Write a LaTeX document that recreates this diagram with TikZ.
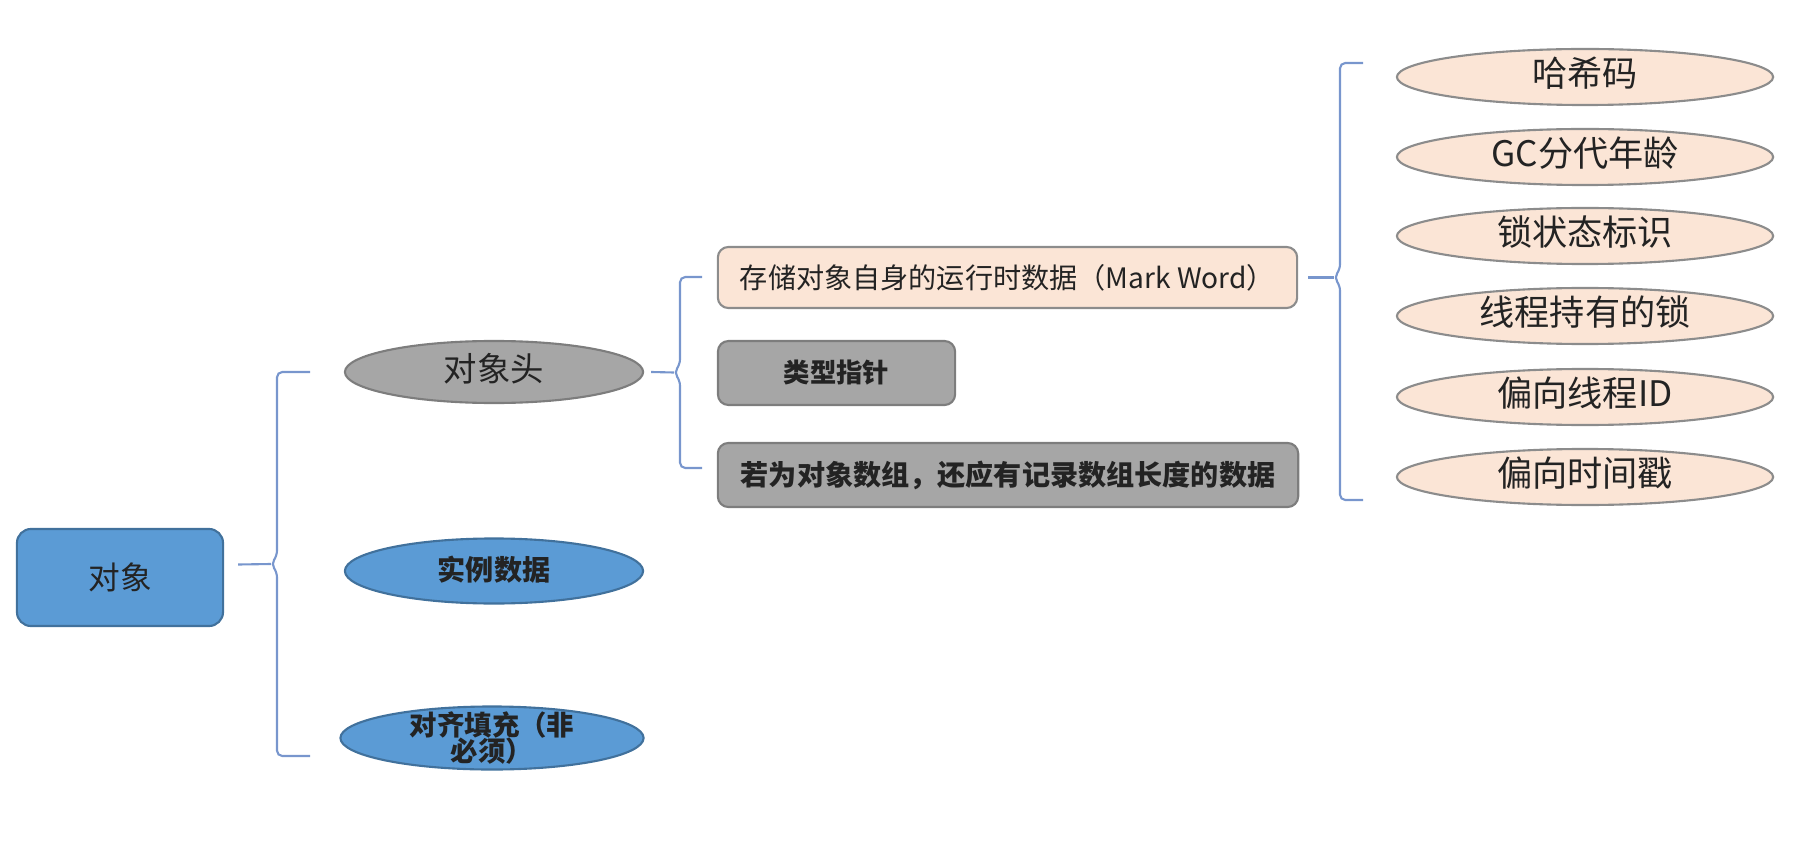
\documentclass[tikz,border=0pt]{standalone}
\usepackage{fontspec}
\setmainfont{Noto Sans CJK SC}
\usetikzlibrary{calc, shapes.geometric}
\definecolor{cBlue}{RGB}{91,155,213}
\definecolor{cBlueDark}{RGB}{65,113,156}
\definecolor{cGray}{RGB}{166,166,166}
\definecolor{cGrayDark}{RGB}{125,125,125}
\definecolor{cPeach}{RGB}{251,229,214}
\definecolor{cPeachLine}{RGB}{140,140,140}
\definecolor{cLine}{RGB}{120,150,205}
\definecolor{cText}{RGB}{35,35,35}
\tikzset{
  box/.style={rectangle, rounded corners=3pt, line width=0.6pt,
              align=center, text=cText},
  oval/.style={ellipse, line width=0.6pt, align=center, text=cText,
               inner sep=0pt},
  tight/.style={text height=7pt, text depth=1.5pt},
  bBlue/.style ={box, draw=cBlueDark, fill=cBlue},
  bGray/.style ={box, draw=cGrayDark, fill=cGray},
  bPeach/.style={box, draw=cPeachLine, fill=cPeach},
  oBlue/.style ={oval, draw=cBlueDark, fill=cBlue},
  oGray/.style ={oval, draw=cGrayDark, fill=cGray},
  oPeach/.style={oval, tight, draw=cPeachLine, fill=cPeach,
                 minimum width=3.76cm, minimum height=0.56cm,
                 font=\fontsize{10}{12}\selectfont},
  brc/.style={draw=cLine, line width=0.6pt, rounded corners=1.5pt},
}

\begin{document}
\begin{tikzpicture}[x=0.01cm, y=-0.01cm]
\useasboundingbox (0,0) rectangle (1795,846);

%% ============================================================
%% LEVEL 0  -- the object
%% ============================================================
\node[bBlue, rounded corners=4pt, minimum width=2.06cm, minimum height=0.97cm,
      font=\fontsize{9}{10}\selectfont] (obj) at (120,577.5) {对象};

%% ============================================================
%% LEVEL 1  -- header / instance data / padding
%% ============================================================
\node[oGray, tight, minimum width=2.98cm, minimum height=0.62cm,
      font=\fontsize{9.5}{11}\selectfont] (hdr) at (494,372) {对象头};

\node[oBlue, tight, minimum width=2.98cm, minimum height=0.65cm,
      font=\bfseries\fontsize{8}{9}\selectfont] (inst) at (494,571) {实例数据};

\node[oBlue, minimum width=3.03cm, minimum height=0.63cm, inner ysep=-3pt,
      font=\bfseries\fontsize{7.8}{7.6}\selectfont] (pad) at (492,738)
  {对齐填充（非\\必须）};

%% ============================================================
%% LEVEL 2  -- parts of the header
%% ============================================================
\node[bPeach, minimum width=5.79cm, minimum height=0.61cm,
      font=\fontsize{8}{9}\selectfont] (mw) at (1007.5,277.5)
  {存储对象自身的运行时数据（Mark Word）};

\node[bGray, minimum width=2.37cm, minimum height=0.64cm,
      font=\bfseries\fontsize{7.5}{9}\selectfont] (ptr) at (836.5,373) {类型指针};

\node[bGray, minimum width=5.80cm, minimum height=0.64cm,
      font=\bfseries\fontsize{8}{9}\selectfont] (arr) at (1008,475)
  {若为对象数组，还应有记录数组长度的数据};

%% ============================================================
%% LEVEL 3  -- contents of the Mark Word
%% ============================================================
\node[oPeach] (hash)    at (1585,77)  {哈希码};
\node[oPeach] (age)     at (1585,157) {GC分代年龄};
\node[oPeach] (lockst)  at (1585,236) {锁状态标识};
\node[oPeach] (lockown) at (1585,316) {线程持有的锁};
\node[oPeach] (biasid)  at (1585,397) {偏向线程ID};
\node[oPeach] (biasts)  at (1585,477) {偏向时间戳};

%% ============================================================
%% BRACKETS
%% ============================================================
% object -> level 1
\coordinate (b1top) at (310,372);
\coordinate (b1mid) at (271,564);
\coordinate (b1bot) at (310,756);
\draw[brc] ($(obj.east)+(14,-13)$) -- (b1mid);
\draw[brc] (b1top) -- ++(-33,0) -- ($(b1mid)+(6,-8)$) -- (b1mid)
  -- ($(b1mid)+(6,8)$) -- ($(b1bot)+(-33,0)$) -- (b1bot);

% header -> level 2
\coordinate (b2top) at (702,277);
\coordinate (b2mid) at (674,372.5);
\coordinate (b2bot) at (702,468);
\draw[brc] ($(hdr.east)+(7,0)$) -- (b2mid);
\draw[brc] (b2top) -- ++(-22,0) -- ($(b2mid)+(6,-8)$) -- (b2mid)
  -- ($(b2mid)+(6,8)$) -- ($(b2bot)+(-22,0)$) -- (b2bot);

% mark word -> level 3
\coordinate (b3top) at (1363,63);
\coordinate (b3mid) at (1334,277.5);
\coordinate (b3bot) at (1363,500);
\draw[brc] ($(mw.east)+(10,0)$) -- (b3mid);
\draw[brc] (b3top) -- ++(-23,0) -- ($(b3mid)+(6,-8)$) -- (b3mid)
  -- ($(b3mid)+(6,8)$) -- ($(b3bot)+(-23,0)$) -- (b3bot);

\end{tikzpicture}
\end{document}
